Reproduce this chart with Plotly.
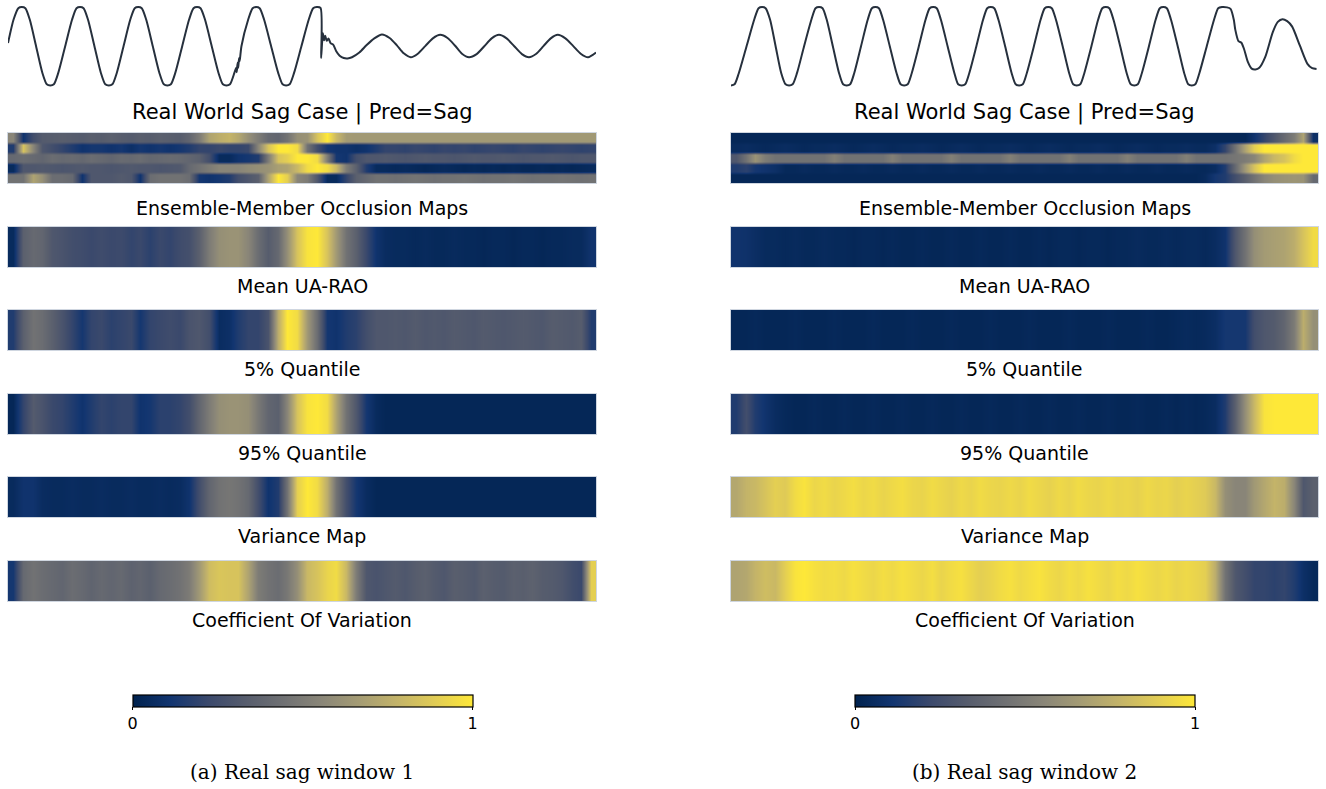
import plotly.graph_objects as go

# ---------------------------------------------------------------- waveforms
# time (ms) / normalised voltage, window 1
wave1_t = [0.0, 1.9, 3.5, 4.7, 5.9, 7.4, 9.55, 11.7, 13.2, 14.4, 15.6, 17.1, 19.45, 21.8, 23.3,
           24.5, 25.7, 27.2, 29.4, 31.6, 33.1, 34.3, 35.5, 37.0, 39.3, 41.6, 43.1, 44.3, 45.5,
           47.0, 49.25, 51.5, 53.0, 54.2, 55.4, 56.9, 59.25, 61.6, 63.1, 64.3, 65.5, 67.0, 69.3,
           71.6, 73.1, 74.3, 75.5, 77.0, 77.6, 77.8, 78.1, 78.3, 78.6, 78.8, 79.1, 79.4, 81.7,
           83.2, 84.4, 85.6, 87.1, 89.5, 91.9, 93.4, 94.6, 95.8, 97.3, 99.8, 102.3, 103.8, 105.0,
           106.3, 106.5, 106.8, 107.1, 107.5, 107.9, 108.4, 109.0, 109.7, 110.6, 111.6, 112.8,
           114.2, 115.5, 117.0, 119.5, 122.0, 124.6, 127.2, 129.8, 132.2, 134.6, 137.0, 139.4,
           142.0, 144.5, 147.0, 149.5, 152.0, 154.4, 156.8, 159.4, 162.0, 164.5, 167.0, 169.6,
           172.2, 174.8, 177.2, 179.7, 182.2, 184.6, 187.0, 189.6, 192.2, 194.8, 197.3, 200.0]
wave1_v = [0.08, 0.68, 0.97, 1.0, 0.97, 0.68, 0.0, -0.68, -0.97, -1.0, -0.97, -0.68, 0.0, 0.68, 0.97,
           1.0, 0.97, 0.68, 0.0, -0.68, -0.97, -1.0, -0.97, -0.68, 0.0, 0.68, 0.97, 1.0, 0.97,
           0.68, 0.0, -0.68, -0.97, -1.0, -0.97, -0.68, 0.0, 0.68, 0.97, 1.0, 0.97, 0.68, 0.0,
           -0.68, -0.97, -1.0, -0.97, -0.68, -0.55, -0.66, -0.42, -0.55, -0.3, -0.38, -0.18, 0.0, 0.68,
           0.97, 1.0, 0.97, 0.68, 0.0, -0.68, -0.97, -1.0, -0.97, -0.68, 0.0, 0.68, 0.97, 1.0,
           0.98, -0.3, 0.05, 0.33, 0.15, 0.27, 0.14, 0.2, 0.08, 0.04, -0.12, -0.24,
           -0.3, -0.31, -0.28, -0.16, 0.03, 0.2, 0.3, 0.21, 0.03, -0.18, -0.28, -0.19,
           0.01, 0.2, 0.29, 0.21, 0.02, -0.19, -0.28, -0.2, 0.0, 0.2, 0.29, 0.2,
           0.0, -0.2, -0.28, -0.19, 0.01, 0.2, 0.29, 0.2, 0.01, -0.19, -0.28, -0.16]

# time (ms) / normalised voltage, window 2
wave2_t = [0.0, 1.2, 2.6, 5.3, 8.0, 9.4, 10.6, 11.8, 13.3, 15.2, 17.1, 18.6, 19.8, 21.0, 22.5,
           24.9, 27.4, 28.8, 30.0, 31.2, 32.6, 34.7, 36.8, 38.2, 39.4, 40.6, 42.0, 44.3, 46.6,
           48.0, 49.2, 50.4, 51.8, 54.1, 56.4, 57.8, 59.0, 60.2, 61.6, 64.0, 66.3, 67.7, 68.9,
           70.1, 71.5, 73.8, 76.1, 77.4, 78.6, 79.8, 81.2, 83.6, 85.9, 87.3, 88.5, 89.7, 91.1,
           93.4, 95.6, 97.0, 98.2, 99.4, 100.8, 103.2, 105.5, 106.9, 108.1, 109.3, 110.7, 113.0,
           115.2, 116.6, 117.8, 119.0, 120.4, 122.8, 125.1, 126.5, 127.7, 128.9, 130.3, 132.6,
           134.8, 136.2, 137.4, 138.6, 140.0, 142.4, 144.7, 146.1, 147.3, 148.5, 149.9, 152.2,
           154.4, 155.8, 157.0, 158.2, 159.6, 162.1, 164.6, 166.0, 167.3, 169.0, 170.2, 171.3,
           171.8, 172.9, 173.9, 174.8, 176.1, 177.4, 178.7, 180.0, 182.0, 184.6, 186.3, 187.9,
           189.5, 191.2, 193.8, 196.4, 198.0, 199.5]
wave2_v = [-1.0, -0.97, -0.7, 0.0, 0.7, 0.97, 1.0, 0.97, 0.68, 0.0, -0.68, -0.97, -1.0, -0.97, -0.68,
           0.0, 0.68, 0.97, 1.0, 0.97, 0.68, 0.0, -0.68, -0.97, -1.0, -0.97, -0.68, 0.0, 0.68,
           0.97, 1.0, 0.97, 0.68, 0.0, -0.68, -0.97, -1.0, -0.97, -0.68, 0.0, 0.68, 0.97, 1.0,
           0.97, 0.68, 0.0, -0.68, -0.97, -1.0, -0.97, -0.68, 0.0, 0.68, 0.97, 1.0, 0.97, 0.68,
           0.0, -0.68, -0.97, -1.0, -0.97, -0.68, 0.0, 0.68, 0.97, 1.0, 0.97, 0.68, 0.0,
           -0.68, -0.97, -1.0, -0.97, -0.68, 0.0, 0.68, 0.97, 1.0, 0.97, 0.68, 0.0,
           -0.68, -0.97, -1.0, -0.97, -0.68, 0.0, 0.68, 0.97, 1.0, 0.97, 0.68, 0.0,
           -0.68, -0.97, -1.0, -0.97, -0.68, 0.0, 0.68, 0.97, 1.0, 0.99, 0.95, 0.68,
           0.43, 0.13, 0.09, -0.07, -0.4, -0.57, -0.59, -0.55, -0.28, 0.36, 0.62, 0.69,
           0.64, 0.5, 0.02, -0.45, -0.56, -0.58]

# ---------------------------------------------------------------- attribution maps (60 windows)
ens_left = [
    [0.55, 0.10, 0.25, 0.32, 0.33, 0.34, 0.33, 0.32, 0.34, 0.33, 0.35, 0.33, 0.32, 0.34, 0.33,
     0.35, 0.34, 0.33, 0.38, 0.50, 0.70, 0.75, 0.78, 0.72, 0.60, 0.50, 0.40, 0.38, 0.45, 0.60,
     0.62, 0.85, 1.00, 0.80, 0.66, 0.65, 0.65, 0.65, 0.65, 0.65, 0.65, 0.65, 0.65, 0.65, 0.65,
     0.65, 0.65, 0.65, 0.65, 0.65, 0.65, 0.65, 0.65, 0.65, 0.65, 0.65, 0.65, 0.65, 0.65, 0.65],
    [0.15, 0.85, 0.55, 0.30, 0.25, 0.20, 0.15, 0.10, 0.12, 0.12, 0.10, 0.12, 0.08, 0.12, 0.10,
     0.12, 0.10, 0.12, 0.15, 0.20, 0.20, 0.22, 0.20, 0.20, 0.22, 0.55, 0.85, 1.00, 1.00, 0.95,
     0.45, 0.25, 0.12, 0.10, 0.10, 0.08, 0.10, 0.15, 0.20, 0.20, 0.19, 0.21, 0.20, 0.19, 0.21,
     0.20, 0.21, 0.19, 0.20, 0.21, 0.20, 0.19, 0.21, 0.20, 0.19, 0.20, 0.21, 0.20, 0.19, 0.20],
    [0.40, 0.42, 0.40, 0.38, 0.42, 0.40, 0.41, 0.39, 0.42, 0.40, 0.38, 0.41, 0.40, 0.42, 0.39,
     0.40, 0.41, 0.40, 0.38, 0.35, 0.25, 0.05, 0.05, 0.10, 0.12, 0.15, 0.50, 0.85, 0.90, 1.00,
     1.00, 0.95, 0.50, 0.12, 0.10, 0.25, 0.30, 0.30, 0.31, 0.30, 0.29, 0.30, 0.31, 0.30, 0.30,
     0.29, 0.30, 0.31, 0.30, 0.30, 0.31, 0.30, 0.29, 0.30, 0.30, 0.31, 0.30, 0.29, 0.30, 0.30],
    [0.05, 0.30, 0.30, 0.31, 0.30, 0.29, 0.30, 0.31, 0.30, 0.30, 0.29, 0.30, 0.31, 0.30, 0.30,
     0.29, 0.30, 0.31, 0.40, 0.45, 0.50, 0.55, 0.55, 0.55, 0.58, 0.60, 0.62, 0.68, 0.70, 0.80,
     0.95, 1.00, 0.95, 0.80, 0.50, 0.35, 0.15, 0.05, 0.05, 0.04, 0.05, 0.04, 0.03, 0.04, 0.05,
     0.04, 0.03, 0.04, 0.03, 0.04, 0.03, 0.04, 0.03, 0.03, 0.04, 0.03, 0.04, 0.03, 0.04, 0.05],
    [0.45, 0.45, 0.70, 0.60, 0.42, 0.42, 0.40, 0.10, 0.30, 0.30, 0.30, 0.32, 0.30, 0.10, 0.42,
     0.45, 0.45, 0.45, 0.42, 0.12, 0.10, 0.12, 0.15, 0.25, 0.30, 0.35, 0.70, 1.00, 0.90, 0.55,
     0.50, 0.30, 0.05, 0.05, 0.20, 0.35, 0.40, 0.45, 0.45, 0.44, 0.45, 0.46, 0.45, 0.44, 0.45,
     0.45, 0.46, 0.45, 0.44, 0.45, 0.45, 0.46, 0.45, 0.44, 0.45, 0.45, 0.46, 0.45, 0.44, 0.45],
]
mean_left = [0.05, 0.35, 0.40, 0.38, 0.30, 0.28, 0.25, 0.24, 0.22, 0.24, 0.22, 0.23, 0.20, 0.22, 0.18,
             0.22, 0.20, 0.24, 0.26, 0.35, 0.50, 0.60, 0.62, 0.62, 0.55, 0.42, 0.33, 0.40, 0.60, 0.85,
             0.98, 1.00, 0.85, 0.65, 0.45, 0.35, 0.22, 0.10, 0.06, 0.05, 0.05, 0.04, 0.05, 0.04, 0.04,
             0.05, 0.04, 0.04, 0.03, 0.04, 0.04, 0.03, 0.04, 0.04, 0.03, 0.04, 0.04, 0.05, 0.05, 0.10]
q05_left = [0.15, 0.35, 0.45, 0.42, 0.35, 0.28, 0.20, 0.12, 0.20, 0.22, 0.18, 0.20, 0.22, 0.12, 0.20,
            0.22, 0.24, 0.22, 0.28, 0.30, 0.25, 0.06, 0.08, 0.15, 0.20, 0.20, 0.28, 0.75, 1.00, 0.95,
            0.65, 0.42, 0.12, 0.10, 0.15, 0.18, 0.25, 0.30, 0.30, 0.31, 0.30, 0.32, 0.30, 0.31, 0.30,
            0.32, 0.31, 0.30, 0.32, 0.31, 0.30, 0.31, 0.32, 0.31, 0.30, 0.33, 0.32, 0.31, 0.33, 0.15]
q95_left = [0.03, 0.20, 0.32, 0.28, 0.22, 0.20, 0.15, 0.10, 0.15, 0.20, 0.18, 0.20, 0.20, 0.10, 0.12,
            0.18, 0.18, 0.20, 0.25, 0.38, 0.50, 0.60, 0.62, 0.62, 0.60, 0.48, 0.38, 0.35, 0.55, 0.85,
            0.98, 1.00, 0.95, 0.70, 0.45, 0.30, 0.12, 0.05, 0.03, 0.03, 0.03, 0.03, 0.03, 0.03, 0.03,
            0.03, 0.03, 0.03, 0.03, 0.03, 0.03, 0.03, 0.03, 0.03, 0.03, 0.03, 0.03, 0.03, 0.03, 0.03]
var_left = [0.05, 0.10, 0.10, 0.06, 0.05, 0.05, 0.06, 0.05, 0.05, 0.06, 0.05, 0.05, 0.06, 0.05, 0.05,
            0.06, 0.05, 0.06, 0.10, 0.25, 0.38, 0.45, 0.47, 0.45, 0.40, 0.25, 0.10, 0.15, 0.45, 0.90,
            1.00, 0.95, 0.75, 0.45, 0.25, 0.12, 0.06, 0.03, 0.03, 0.03, 0.03, 0.03, 0.03, 0.03, 0.03,
            0.03, 0.03, 0.03, 0.03, 0.03, 0.03, 0.03, 0.03, 0.03, 0.03, 0.03, 0.03, 0.03, 0.03, 0.03]
cov_left = [0.12, 0.40, 0.45, 0.42, 0.40, 0.38, 0.42, 0.40, 0.37, 0.40, 0.38, 0.40, 0.36, 0.38, 0.35,
            0.40, 0.42, 0.45, 0.50, 0.65, 0.82, 0.86, 0.85, 0.85, 0.70, 0.50, 0.45, 0.42, 0.48, 0.60,
            0.80, 0.85, 0.92, 0.95, 0.80, 0.50, 0.30, 0.28, 0.30, 0.32, 0.30, 0.33, 0.35, 0.32, 0.30,
            0.34, 0.33, 0.31, 0.35, 0.33, 0.32, 0.35, 0.34, 0.36, 0.33, 0.32, 0.30, 0.25, 0.22, 0.90]

ens_right = [
    [0.03] * 53 + [0.10, 0.20, 0.30, 0.40, 0.50, 0.70, 0.08],
    [0.05, 0.06, 0.05, 0.04, 0.05, 0.06, 0.05, 0.04, 0.05, 0.05, 0.06, 0.05, 0.04, 0.05, 0.06,
     0.05, 0.04, 0.05, 0.05, 0.06, 0.05, 0.04, 0.05, 0.06, 0.05, 0.04, 0.05, 0.05, 0.06, 0.05,
     0.04, 0.05, 0.06, 0.05, 0.04, 0.05, 0.05, 0.06, 0.05, 0.04, 0.05, 0.06, 0.05, 0.04, 0.05,
     0.05, 0.06, 0.05, 0.05, 0.08, 0.20, 0.45, 0.70, 0.90, 1.00, 1.00, 1.00, 1.00, 1.00, 1.00],
    [0.30, 0.45, 0.62, 0.50, 0.45, 0.45, 0.45, 0.45, 0.45, 0.45, 0.52, 0.45, 0.45, 0.45, 0.45,
     0.45, 0.52, 0.45, 0.45, 0.45, 0.45, 0.45, 0.52, 0.45, 0.45, 0.45, 0.45, 0.45, 0.52, 0.45,
     0.45, 0.45, 0.45, 0.45, 0.52, 0.45, 0.45, 0.45, 0.45, 0.45, 0.52, 0.45, 0.45, 0.45, 0.45,
     0.45, 0.52, 0.45, 0.45, 0.45, 0.45, 0.47, 0.50, 0.55, 0.70, 0.80, 0.85, 0.95, 1.00, 1.00],
    [0.15, 0.18, 0.12, 0.10, 0.08, 0.04, 0.04, 0.05, 0.04, 0.04, 0.05, 0.04, 0.04, 0.05, 0.04,
     0.04, 0.05, 0.04, 0.04, 0.05, 0.04, 0.04, 0.05, 0.04, 0.04, 0.05, 0.04, 0.04, 0.05, 0.04,
     0.04, 0.05, 0.04, 0.04, 0.05, 0.04, 0.04, 0.05, 0.04, 0.04, 0.05, 0.04, 0.04, 0.05, 0.04,
     0.04, 0.05, 0.04, 0.04, 0.06, 0.15, 0.40, 0.65, 0.85, 1.00, 1.00, 1.00, 1.00, 1.00, 1.00],
    [0.03] * 48 + [0.05, 0.12, 0.15, 0.25, 0.35, 0.45, 0.55, 0.60, 0.62, 0.63, 0.62, 0.40],
]
mean_right = [0.10, 0.09, 0.07, 0.05, 0.05, 0.04, 0.05, 0.04, 0.04, 0.05, 0.04, 0.04, 0.03, 0.04, 0.04,
              0.03, 0.04, 0.03, 0.03, 0.04, 0.03, 0.03, 0.04, 0.03, 0.03, 0.04, 0.03, 0.03, 0.04, 0.03,
              0.03, 0.04, 0.03, 0.04, 0.04, 0.03, 0.04, 0.04, 0.03, 0.04, 0.04, 0.05, 0.04, 0.04, 0.05,
              0.04, 0.05, 0.05, 0.04, 0.06, 0.10, 0.30, 0.45, 0.60, 0.66, 0.68, 0.70, 0.75, 0.85, 0.95]
q05_right = [0.03, 0.03, 0.04, 0.03, 0.03, 0.03, 0.04, 0.03, 0.03, 0.03, 0.04, 0.03, 0.03, 0.03, 0.04,
             0.03, 0.03, 0.03, 0.04, 0.03, 0.03, 0.03, 0.04, 0.03, 0.03, 0.03, 0.04, 0.03, 0.03, 0.03,
             0.04, 0.03, 0.03, 0.03, 0.04, 0.03, 0.03, 0.03, 0.04, 0.03, 0.03, 0.03, 0.04, 0.03, 0.03,
             0.04, 0.05, 0.04, 0.05, 0.07, 0.12, 0.12, 0.12, 0.25, 0.30, 0.32, 0.38, 0.50, 0.75, 0.60]
q95_right = [0.15, 0.25, 0.15, 0.10, 0.06, 0.04, 0.03, 0.03, 0.04, 0.03, 0.03, 0.04, 0.03, 0.03, 0.04,
             0.03, 0.03, 0.04, 0.03, 0.03, 0.04, 0.03, 0.03, 0.04, 0.03, 0.03, 0.04, 0.03, 0.03, 0.04,
             0.03, 0.03, 0.04, 0.03, 0.03, 0.04, 0.03, 0.03, 0.04, 0.03, 0.03, 0.04, 0.03, 0.03, 0.04,
             0.03, 0.04, 0.03, 0.04, 0.06, 0.15, 0.35, 0.60, 0.80, 0.98, 1.00, 1.00, 1.00, 1.00, 1.00]
var_right = [0.72, 0.78, 0.80, 0.85, 0.90, 0.88, 0.95, 0.98, 0.93, 0.95, 0.92, 0.94, 0.96, 0.93, 0.95,
             0.92, 0.94, 0.96, 0.93, 0.92, 0.95, 0.93, 0.91, 0.94, 0.92, 0.95, 0.93, 0.92, 0.94, 0.92,
             0.95, 0.93, 0.91, 0.94, 0.92, 0.95, 0.93, 0.92, 0.94, 0.92, 0.93, 0.91, 0.94, 0.92, 0.93,
             0.90, 0.92, 0.90, 0.88, 0.80, 0.60, 0.55, 0.55, 0.65, 0.72, 0.78, 0.75, 0.55, 0.30, 0.35]
cov_right = [0.70, 0.72, 0.78, 0.82, 0.80, 0.90, 0.98, 1.00, 0.97, 0.95, 0.96, 0.94, 0.97, 0.95, 0.93,
             0.96, 0.94, 0.97, 0.95, 0.93, 0.96, 0.92, 0.95, 0.97, 0.93, 0.90, 0.92, 0.95, 0.97, 0.94,
             0.96, 0.98, 0.95, 0.93, 0.96, 0.94, 0.97, 0.95, 0.93, 0.96, 0.94, 0.97, 0.95, 0.93, 0.95,
             0.92, 0.94, 0.92, 0.90, 0.75, 0.45, 0.30, 0.25, 0.20, 0.20, 0.18, 0.20, 0.15, 0.08, 0.04]

row_labels = ["Ensemble-Member Occlusion Maps", "Mean UA-RAO", "5% Quantile", "95% Quantile",
              "Variance Map", "Coefficient Of Variation"]
panel_title = "Real World Sag Case | Pred=Sag"
captions = ["(a) Real sag window 1", "(b) Real sag window 2"]
cbar_ticks = [0, 1]

panels = [
    dict(t=wave1_t, v=wave1_v, ens=ens_left,
         maps=[mean_left, q05_left, q95_left, var_left, cov_left]),
    dict(t=wave2_t, v=wave2_v, ens=ens_right,
         maps=[mean_right, q05_right, q95_right, var_right, cov_right]),
]

# ---------------------------------------------------------------- geometry (pixels)
W, H = 1326, 789
panel_x = [(8, 596), (731, 1318)]
wave_y = (5, 88)
strip_y = [(133, 183), (227, 267), (310, 350), (394, 434), (477, 517), (561, 601)]
label_y = [208, 286, 369, 453, 536, 620]
title_y = 112
cbar_y = 695
caption_y = 772


def px_x(x):
    return x / W


def px_y(y):
    return 1 - y / H


FONT = "DejaVu Sans"
fig = go.Figure()
layout = {}
n_cols = len(mean_left)
cols = list(range(n_cols))

for p, pan in enumerate(panels):
    x0, x1 = panel_x[p]
    xdom = [px_x(x0), px_x(x1)]
    cax = "coloraxis" if p == 0 else "coloraxis2"
    base = p * 7

    # waveform
    k = base + 1
    fig.add_trace(go.Scatter(x=pan["t"], y=pan["v"], mode="lines",
                             line=dict(color="#26303d", width=2, shape="spline", smoothing=0.7),
                             xaxis=f"x{k}", yaxis=f"y{k}", showlegend=False, hoverinfo="skip"))
    layout[f"xaxis{k}"] = dict(domain=xdom, range=[0, 200], visible=False, anchor=f"y{k}")
    layout[f"yaxis{k}"] = dict(domain=[px_y(wave_y[1]), px_y(wave_y[0])], range=[-1.064, 1.051],
                               visible=False, anchor=f"x{k}")

    # heat strips
    strips = [pan["ens"]] + pan["maps"]
    for r, data in enumerate(strips):
        k = base + 2 + r
        if r == 0:
            z = [row for row in data for _ in range(3)]
            yr = [len(z) - 0.5, -0.5]
        else:
            z = [data, data]
            yr = [-0.5, 1.5]
        fig.add_trace(go.Heatmap(z=z, x=cols, coloraxis=cax, zsmooth="best",
                                 xaxis=f"x{k}", yaxis=f"y{k}", hoverinfo="skip"))
        ys0, ys1 = strip_y[r]
        axline = dict(showline=True, mirror=True, linecolor="#cfd6e0", linewidth=1,
                      showticklabels=False, ticks="", showgrid=False, zeroline=False)
        layout[f"xaxis{k}"] = dict(domain=xdom, range=[-0.5, n_cols - 0.5], anchor=f"y{k}", **axline)
        layout[f"yaxis{k}"] = dict(domain=[px_y(ys1), px_y(ys0)], range=yr, anchor=f"x{k}", **axline)

    # colour axis with horizontal bar
    layout[cax] = dict(
        cmin=0, cmax=1, colorscale="Cividis",
        colorbar=dict(orientation="h", lenmode="pixels", len=340, thickness=12,
                      x=px_x((x0 + x1) / 2 + 0.5), xanchor="center",
                      y=px_y(cbar_y), yanchor="top", ypad=0, xpad=0,
                      outlinecolor="black", outlinewidth=1.2,
                      tickvals=cbar_ticks, ticktext=[str(v) for v in cbar_ticks],
                      ticks="outside", ticklen=3, tickcolor="black",
                      tickfont=dict(family=FONT, size=16, color="black")))

annotations = []
for p in range(2):
    cx = px_x(sum(panel_x[p]) / 2)
    annotations.append(dict(text=panel_title, x=cx, y=px_y(title_y), xref="paper", yref="paper",
                            showarrow=False, xanchor="center", yanchor="middle",
                            font=dict(family=FONT, size=21, color="black")))
    for lab, ly in zip(row_labels, label_y):
        annotations.append(dict(text=lab, x=cx, y=px_y(ly), xref="paper", yref="paper",
                                showarrow=False, xanchor="center", yanchor="middle",
                                font=dict(family=FONT, size=19, color="black")))
    annotations.append(dict(text=captions[p], x=cx, y=px_y(caption_y), xref="paper", yref="paper",
                            showarrow=False, xanchor="center", yanchor="middle",
                            font=dict(family="DejaVu Serif", size=20, color="black")))

fig.update_layout(width=W, height=H, margin=dict(l=0, r=0, t=0, b=0),
                  paper_bgcolor="white", plot_bgcolor="white",
                  annotations=annotations, **layout)

fig.write_html("out.html", config={"displayModeBar": False})
